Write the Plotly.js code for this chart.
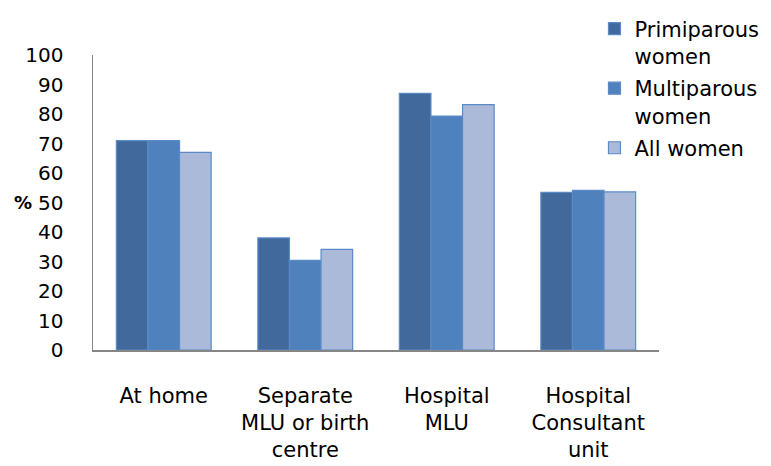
<!DOCTYPE html>
<html><head><meta charset="utf-8">
<script src="https://cdn.plot.ly/plotly-3.0.1.min.js"></script>
<style>body{margin:0;background:#fff}#chart{width:771px;height:466px}</style>
</head><body><div id="chart"></div>
<script>
const categories = ["At home", "Separate<br>MLU or birth<br>centre", "Hospital<br>MLU", "Hospital<br>Consultant<br>unit"];
const seriesNames = ["Primiparous<br>women", "Multiparous<br>women", "All women"];
const primiparous = [71, 38, 87, 53.4];
const multiparous = [71, 30.4, 79.3, 54.1];
const allWomen = [67, 34.1, 83.2, 53.6];
const yTicks = [0,10,20,30,40,50,60,70,80,90,100];

const colors = ["#41699B", "#4F81BD", "#AABAD8"];
const values = [primiparous, multiparous, allWomen];
const FONT = "'DejaVu Sans', sans-serif";

const traces = values.map((v, i) => ({
  type: "bar", x: categories, y: v, name: seriesNames[i], legendgroup: "g" + i,
  marker: {color: colors[i], line: {color: "#5B8BC6", width: 1.2}},
  hoverinfo: "skip"
}));

const layout = {
  width: 771, height: 466,
  margin: {l: 93, r: 112, t: 55, b: 116, autoexpand: false},
  paper_bgcolor: "#fff", plot_bgcolor: "#fff",
  barmode: "group", bargap: 0.33, bargroupgap: 0,
  font: {family: FONT, size: 21, color: "#000"},
  showlegend: true,
  legend: {x: 0.886, y: 1.158, xanchor: "left", yanchor: "top", valign: "top",
           font: {family: FONT, size: 21, color: "#000"}, tracegroupgap: 2,
           itemwidth: 30, bgcolor: "rgba(0,0,0,0)"},
  xaxis: {showline: true, linecolor: "#868686", linewidth: 1.5, ticks: "", showgrid: false,
          tickfont: {family: FONT, size: 21}, zeroline: false, ticklabelstandoff: 26},
  yaxis: {range: [0, 100], tickvals: yTicks, showline: true, linecolor: "#868686", linewidth: 1.5,
          ticks: "", showgrid: false, zeroline: false, ticklabelstandoff: 24,
          tickfont: {family: FONT, size: 20}},
  annotations: [{text: "<b>%</b>", xref: "paper", yref: "y", x: -0.123, y: 50, showarrow: false,
                 xanchor: "center", yanchor: "middle", font: {family: FONT, size: 18}}]
};
Plotly.newPlot("chart", traces, layout, {displayModeBar: false, staticPlot: true});
</script></body></html>
